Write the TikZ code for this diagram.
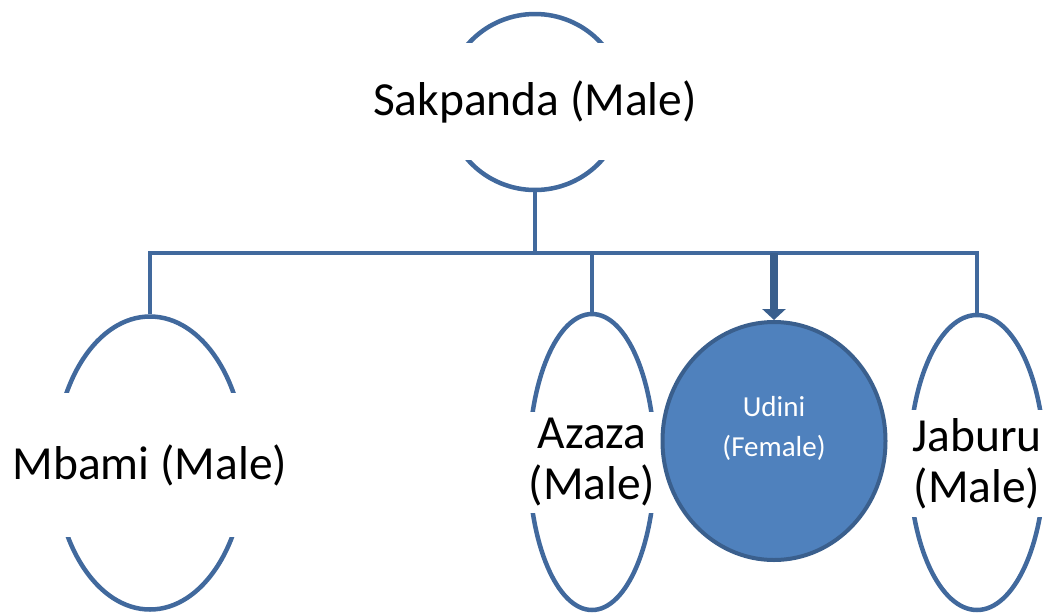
\documentclass[tikz,border=0pt]{standalone}
\usepackage{fontspec}
\setmainfont{Carlito}
\usepackage{tikz}
\usetikzlibrary{arrows.meta,shapes.geometric,calc,positioning}
\definecolor{linkblue}{HTML}{41699D}
\definecolor{fillblue}{HTML}{4F81BD}
\definecolor{edgeblue}{HTML}{3A5F8D}
\tikzset{every node/.append style={font=\rmfamily}}

\begin{document}
\begin{tikzpicture}[x=1pt,y=-1pt,>={Triangle[width=23pt,length=11pt]}]
  \useasboundingbox (0,0) rectangle (1053,614);
  \tikzset{
    person/.style={ellipse,draw=linkblue,line width=4.5pt,inner sep=0pt},
    tag/.style={fill=white,inner sep=0pt,align=center,font=\fontsize{47.5}{51}\selectfont},
    link/.style={draw=linkblue,line width=4.5pt}
  }
  \node[person,minimum width=178pt,minimum height=176pt] (sak) at (535,102) {};
  \node[person,minimum width=190pt,minimum height=293pt] (mbami) at (150,463) {};
  \node[person,minimum width=126pt,minimum height=296pt] (azaza) at (592,462) {};
  \node[person,minimum width=135pt,minimum height=295pt] (jaburu) at (977,462.5) {};
  \coordinate (bus) at (535,253);
  \draw[link] (sak.south) -- (bus);
  \draw[link] (mbami.north) |- (bus) -| (jaburu.north);
  \draw[link] (azaza.north) -- (azaza.north |- bus);
  \node[tag,minimum width=340pt,minimum height=117pt] (saktxt) at (535,101.5) {Sakpanda (Male)};
  \node[tag,minimum width=285pt,minimum height=144pt] (mbamitxt) at (150,465) {Mbami (Male)};
  \node[tag,minimum width=134pt,minimum height=101pt] (azazatxt) at (592,462.5) {Azaza\\(Male)};
  \node[tag,minimum width=142pt,minimum height=107pt] (jaburutxt) at (977,463.5) {Jaburu\\(Male)};
  \node[ellipse,draw=edgeblue,fill=fillblue,line width=4pt,
    minimum width=223pt,minimum height=238pt] (udini) at (774,441) {};
  \node[text=white,align=center,font=\fontsize{29}{40}\selectfont] (uditxt) at (774,428) {Udini\\(Female)};
  \draw[->,edgeblue,line width=8pt] (udini.north |- bus) -- (udini.north);
\end{tikzpicture}
\end{document}
